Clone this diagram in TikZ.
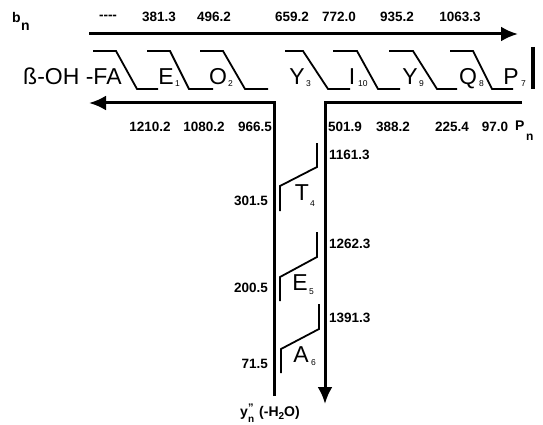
\documentclass[tikz,border=0pt]{standalone}
\usepackage{fontspec}
\setmainfont{Liberation Sans}
\usetikzlibrary{arrows.meta}
\begin{document}
\begin{tikzpicture}[x=1pt,y=-1pt,
  num/.style={font=\fontsize{13.5}{15}\selectfont\bfseries, inner sep=0pt},
  big/.style={font=\fontsize{23}{24}\selectfont, inner sep=0pt, anchor=base},
  sub/.style={font=\fontsize{8.5}{9}\selectfont, inner sep=0pt, anchor=base west},
  frag/.style={line width=1.8pt},
  mainline/.style={line width=3pt},
  tip/.style={-{Latex[length=17pt,width=15pt]}}]
\useasboundingbox (0,0) rectangle (543,425);

% b_n label
\node[font=\fontsize{14}{15}\selectfont\bfseries, inner sep=0pt, anchor=base west] (bl) at (12,23) {b};
\node[font=\fontsize{14}{15}\selectfont\bfseries, inner sep=0pt, anchor=base west] (bls) at (21,31) {n};

% top numbers
\node[num] (t0) at (108,17) {-{}-{}-{}-};
\node[num] (t1) at (159,17) {381.3};
\node[num] (t2) at (214,17) {496.2};
\node[num] (t3) at (292,17) {659.2};
\node[num] (t4) at (339,17) {772.0};
\node[num] (t5) at (397,17) {935.2};
\node[num] (t6) at (460,17) {1063.3};

% top arrow
\coordinate (ta) at (89,34);
\coordinate (tb) at (518,34);
\draw[mainline,tip] (ta) -- (tb);

% fragment marks
\foreach \a/\b/\c/\d [count=\i] in {93/116/137/158,147/170/189/213,200/223/245/268,285/303/328/350,333/357/378/400,389/413/437/457,450/473/492/513}{
  \coordinate (f\i a) at (\a,51);
  \coordinate (f\i b) at (\b,51);
  \coordinate (f\i c) at (\c,89);
  \coordinate (f\i d) at (\d,89);
  \draw[frag] (f\i a) -- (f\i b) -- (f\i c) -- (f\i d);
}
\coordinate (bar1) at (533,47);
\coordinate (bar2) at (533,89);
\draw[line width=3.5pt] (bar1) -- (bar2);

% sequence letters
\node[big, anchor=base west] (fa) at (23,85) {ß-OH -FA};
\node[big] (e1) at (166,85) {E};   \node[sub] (e1s) at (175,87) {1};
\node[big] (o2) at (218,85) {O};   \node[sub] (o2s) at (228,87) {2};
\node[big] (y3) at (297,85) {Y};   \node[sub] (y3s) at (306,87) {3};
\node[big] (i10) at (352,85) {I};  \node[sub] (i10s) at (358,87) {10};
\node[big] (y9) at (410,85) {Y};   \node[sub] (y9s) at (419,87) {9};
\node[big] (q8) at (468,85) {Q};   \node[sub] (q8s) at (479,87) {8};
\node[big] (p7) at (511,85) {P};   \node[sub] (p7s) at (521,87) {7};

% lower left arrow and vertical
\coordinate (la) at (274,103);
\coordinate (lb) at (89,103);
\coordinate (lc) at (274,396);
\draw[mainline,tip] (lc) -- (la) -- (lb);

% lower right line and down arrow
\coordinate (ra) at (522,103);
\coordinate (rb) at (325,103);
\coordinate (rc) at (325,404);
\draw[mainline,tip] (ra) -- (rb) -- (rc);

% lower numbers
\node[num] (l1) at (150,127) {1210.2};
\node[num] (l2) at (204,127) {1080.2};
\node[num] (l3) at (255,127) {966.5};
\node[num] (r1) at (345,127) {501.9};
\node[num] (r2) at (393,127) {388.2};
\node[num] (r3) at (452,127) {225.4};
\node[num] (r4) at (495,127) {97.0};
\node[font=\fontsize{14}{15}\selectfont\bfseries, inner sep=0pt, anchor=base west] (pn) at (515,131) {P};
\node[font=\fontsize{12}{13}\selectfont\bfseries, inner sep=0pt, anchor=base west] (pns) at (526,140) {n};

% vertical fragment marks
\coordinate (v1a) at (317,143); \coordinate (v1b) at (317,167);
\coordinate (v1c) at (280,186); \coordinate (v1d) at (280,211);
\draw[frag] (v1a) -- (v1b) -- (v1c) -- (v1d);
\coordinate (v2a) at (317,232); \coordinate (v2b) at (317,257);
\coordinate (v2c) at (280,277); \coordinate (v2d) at (280,301);
\draw[frag] (v2a) -- (v2b) -- (v2c) -- (v2d);
\coordinate (v3a) at (319,304); \coordinate (v3b) at (319,329);
\coordinate (v3c) at (281,349); \coordinate (v3d) at (281,373);
\draw[frag] (v3a) -- (v3b) -- (v3c) -- (v3d);

\node[big] (t4l) at (302,200) {T};  \node[sub] (t4s) at (310,206) {4};
\node[big] (e5l) at (300,290) {E};  \node[sub] (e5s) at (309,294) {5};
\node[big] (a6l) at (301,362) {A};  \node[sub] (a6s) at (311,365) {6};

% vertical numbers
\node[num, anchor=west] (n1) at (329,155) {1161.3};
\node[num, anchor=west] (n2) at (329,244) {1262.3};
\node[num, anchor=west] (n3) at (329,318) {1391.3};
\node[num, anchor=east] (m1) at (268,201) {301.5};
\node[num, anchor=east] (m2) at (268,288) {200.5};
\node[num, anchor=east] (m3) at (268,364) {71.5};

% y'' label
\node[font=\fontsize{14}{15}\selectfont\bfseries, inner sep=0pt, anchor=base west] (yl) at (240,416) {y};
\node[font=\fontsize{11}{11}\selectfont\bfseries, inner sep=0pt, anchor=base west] (ylq) at (248,411) {''};
\node[font=\fontsize{10}{10}\selectfont\bfseries, inner sep=0pt, anchor=base west] (yln) at (248,422) {n};
\node[font=\fontsize{14}{15}\selectfont\bfseries, inner sep=0pt, anchor=base west] (ylt) at (259,416)
  {(-H\raisebox{-3pt}{\fontsize{10}{10}\selectfont 2}O)};
\end{tikzpicture}
\end{document}
